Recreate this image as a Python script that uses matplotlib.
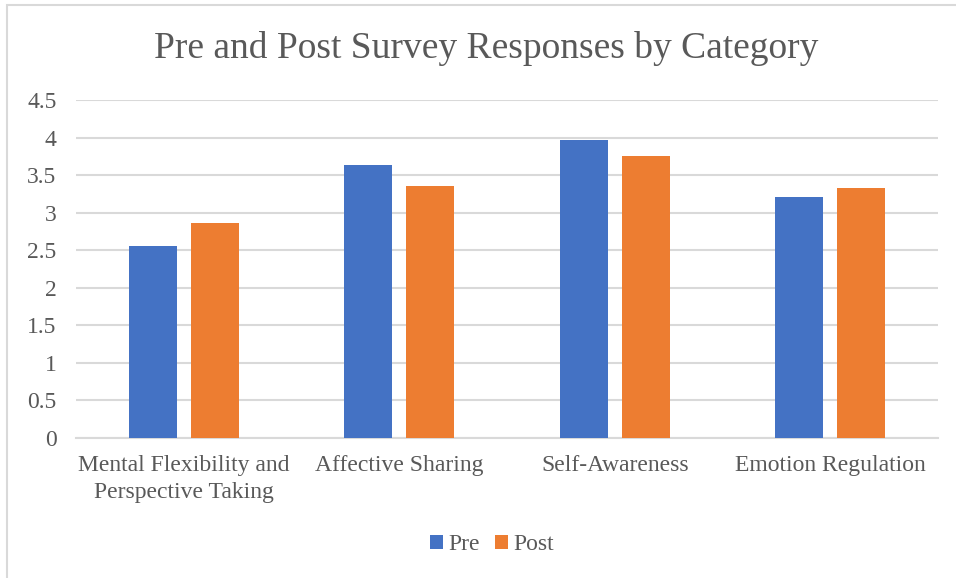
import numpy as np
import matplotlib.pyplot as plt
from matplotlib.patches import Rectangle

categories = ["Mental Flexibility and\nPerspective Taking", "Affective Sharing",
              "Self-Awareness", "Emotion Regulation"]
pre = [2.55, 3.63, 3.97, 3.21]
post = [2.86, 3.36, 3.75, 3.33]
yticks = [0, 0.5, 1, 1.5, 2, 2.5, 3, 3.5, 4, 4.5]
ytick_labels = ["0", "0.5", "1", "1.5", "2", "2.5", "3", "3.5", "4", "4.5"]

plt.rcParams['font.family'] = ['Liberation Serif', 'DejaVu Serif']
text_col = '#595959'

fig = plt.figure(figsize=(9.56, 5.78), dpi=100)
W, H = 956, 578
ax = fig.add_axes([76 / W, 1 - 438 / H, (938 - 76) / W, (438 - 100) / H])

# chart frame (cropped on right and bottom in the reference)
fig.patches.append(Rectangle((7 / W, -0.1), 1.2, 1 - 5 / H + 0.1, transform=fig.transFigure,
                             fill=False, edgecolor='#d9d9d9', linewidth=1.5))

x = np.arange(len(categories))
w = 0.223
off = 0.144
ax.bar(x - off, pre, w, color='#4472C4', label='Pre', zorder=3)
ax.bar(x + off, post, w, color='#ED7D31', label='Post', zorder=3)

ax.set_xlim(-0.5, len(categories) - 0.5)
ax.set_ylim(0, 4.5)
ax.set_yticks(yticks)
ax.set_yticklabels(ytick_labels)
ax.set_xticks(x)
ax.set_xticklabels(categories, linespacing=1.4)
ax.yaxis.grid(True, color='#d9d9d9', linewidth=1.5, zorder=0)
ax.set_axisbelow(True)
for s in ['top', 'right', 'left']:
    ax.spines[s].set_visible(False)
ax.spines['bottom'].set_color('#d9d9d9')
ax.spines['bottom'].set_linewidth(1.5)
ax.tick_params(axis='y', length=0, pad=14, labelsize=17, labelcolor=text_col)
ax.tick_params(axis='x', length=0, pad=12, labelsize=17, labelcolor=text_col)

fig.text(486 / W, 1 - 48 / H, "Pre and Post Survey Responses by Category", ha='center', va='center',
         fontsize=27, color=text_col)

fig.legend(loc='center', bbox_to_anchor=(492 / W, 1 - 545 / H), ncol=2, frameon=False,
           fontsize=17, labelcolor=text_col, handlelength=0.55, handleheight=0.55,
           handletextpad=0.25, columnspacing=0.6)

fig.savefig('out.png', dpi=100)
